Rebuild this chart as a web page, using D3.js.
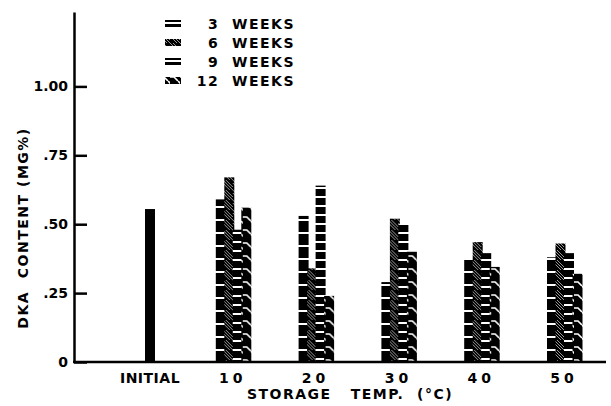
<!DOCTYPE html>
<html>
<head>
<meta charset="utf-8">
<script src="https://cdn.jsdelivr.net/npm/d3@7"></script>
<style>
  body { margin: 0; background: #fff; }
  text { font-family: "DejaVu Sans", sans-serif; font-weight: bold; fill: #000; }
</style>
</head>
<body>
<div class="plot"></div>
<script>
// data
var categories = ["INITIAL", "10", "20", "30", "40", "50"];
var series = ["3 WEEKS", "6 WEEKS", "9 WEEKS", "12 WEEKS"];
var initialValue = 0.555;
var weeks3 = [0.59, 0.53, 0.29, 0.377, 0.38];
var weeks6 = [0.67, 0.34, 0.52, 0.435, 0.43];
var weeks9 = [0.48, 0.64, 0.50, 0.395, 0.395];
var weeks12 = [0.56, 0.24, 0.40, 0.345, 0.32];
var tickValues = [0, 0.25, 0.5, 0.75, 1.0];
var tickLabels = ["0", ".25", ".50", ".75", "1.00"];

var svgWidth = 611;
var svgHeight = 406;

var svg = d3.select(".plot")
    .append("svg")
    .attr("width", svgWidth)
    .attr("height", svgHeight);

// hatch patterns (white marks on black)
var defs = svg.append("defs");
var p3 = defs.append("pattern").attr("id", "p0")
    .attr("patternUnits", "userSpaceOnUse").attr("width", 10).attr("height", 13);
p3.append("rect").attr("width", 10).attr("height", 13).attr("fill", "#000");
p3.append("rect").attr("y", 11).attr("width", 10).attr("height", 2).attr("fill", "#fff");

var p6 = defs.append("pattern").attr("id", "p1")
    .attr("patternUnits", "userSpaceOnUse").attr("width", 10).attr("height", 10);
p6.append("rect").attr("width", 10).attr("height", 10).attr("fill", "#000");
p6.append("path").attr("d", "M-1,-1 L11,11 M-1,2 L8,11 M2,-1 L11,8")
    .attr("stroke", "#fff").attr("stroke-width", 0.6);

var p9 = defs.append("pattern").attr("id", "p2")
    .attr("patternUnits", "userSpaceOnUse").attr("width", 10).attr("height", 9);
p9.append("rect").attr("width", 10).attr("height", 9).attr("fill", "#000");
p9.append("rect").attr("y", 7).attr("width", 10).attr("height", 2).attr("fill", "#fff");

var p12 = defs.append("pattern").attr("id", "p3")
    .attr("patternUnits", "userSpaceOnUse").attr("width", 10).attr("height", 13);
p12.append("rect").attr("width", 10).attr("height", 13).attr("fill", "#000");
p12.append("path").attr("d", "M-1,9 H4 L8,13 M8,0 L11,3")
    .attr("stroke", "#fff").attr("stroke-width", 1.6).attr("fill", "none");

// scales
var x = d3.scalePoint()
    .domain(categories)
    .range([150, 564]);

var y = d3.scaleLinear()
    .domain([0, 1.27])
    .range([362, 12]);

var xSub = d3.scaleBand()
    .domain(series)
    .range([-17, 17]);

// y axis
var yAxis = d3.axisLeft(y)
    .tickValues(tickValues)
    .tickFormat((d, i) => tickLabels[i])
    .tickSize(-13)
    .tickSizeOuter(0)
    .tickPadding(6);

var yAxisG = svg.append("g")
    .attr("transform", "translate(74, 0)")
    .call(yAxis);
yAxisG.select(".domain").attr("stroke", "#000").attr("stroke-width", 2.5);
yAxisG.selectAll(".tick line").attr("stroke", "#000").attr("stroke-width", 2.5);
yAxisG.selectAll(".tick text")
    .attr("font-size", 14)
    .attr("font-family", "DejaVu Sans, sans-serif")
    .attr("font-weight", "bold");

// bars
var groups = categories.slice(1).map(function (c, i) {
    return {cat: c, values: [weeks3[i], weeks6[i], weeks9[i], weeks12[i]]};
});

svg.append("rect")
    .attr("x", x("INITIAL") - 5)
    .attr("y", y(initialValue))
    .attr("width", 10)
    .attr("height", y(0) - y(initialValue))
    .attr("fill", "#000");

var barG = svg.selectAll(".grp")
    .data(groups)
    .enter()
    .append("g")
    .attr("class", "grp")
    .attr("transform", d => `translate(${x(d.cat)}, 0)`);

barG.selectAll("rect")
    .data(d => d.values.map((v, i) => ({s: series[i], i: i, v: v})))
    .enter()
    .append("rect")
    .attr("x", d => xSub(d.s))
    .attr("y", d => y(d.v))
    .attr("width", xSub.bandwidth() + 1.5)
    .attr("height", d => y(0) - y(d.v))
    .attr("fill", d => `url(#p${d.i})`);

// x axis line
svg.append("line")
    .attr("x1", 73).attr("x2", 606)
    .attr("y1", y(0)).attr("y2", y(0))
    .attr("stroke", "#000").attr("stroke-width", 2.5);

// category labels
svg.selectAll(".xlab")
    .data(categories)
    .enter()
    .append("text")
    .attr("class", "xlab")
    .attr("x", d => x(d))
    .attr("y", 383)
    .attr("text-anchor", "middle")
    .attr("font-size", 14)
    .attr("letter-spacing", d => d === "INITIAL" ? 0.5 : 4)
    .text(d => d);

svg.append("text")
    .attr("x", 350)
    .attr("y", 399)
    .attr("text-anchor", "middle")
    .attr("font-size", 14)
    .attr("letter-spacing", 1.5)
    .attr("xml:space", "preserve")
    .text("STORAGE   TEMP.  (°C)");

// y title
svg.append("text")
    .attr("transform", "translate(28, 228) rotate(-90)")
    .attr("text-anchor", "middle")
    .attr("font-size", 14)
    .attr("letter-spacing", 1.5)
    .attr("xml:space", "preserve")
    .text("DKA  CONTENT (MG%)");

// legend
var legend = svg.selectAll(".leg")
    .data(series)
    .enter()
    .append("g")
    .attr("class", "leg")
    .attr("transform", (d, i) => `translate(0, ${24 + i * 19})`);

legend.append("rect")
    .attr("x", 165)
    .attr("y", -4)
    .attr("width", 16)
    .attr("height", 7)
    .attr("fill", (d, i) => `url(#p${i})`);

legend.append("text")
    .attr("x", 295)
    .attr("y", 5)
    .attr("text-anchor", "end")
    .attr("font-size", 14)
    .attr("letter-spacing", 1.5)
    .attr("xml:space", "preserve")
    .text(d => d.replace(" ", "  "));
</script>
</body>
</html>
